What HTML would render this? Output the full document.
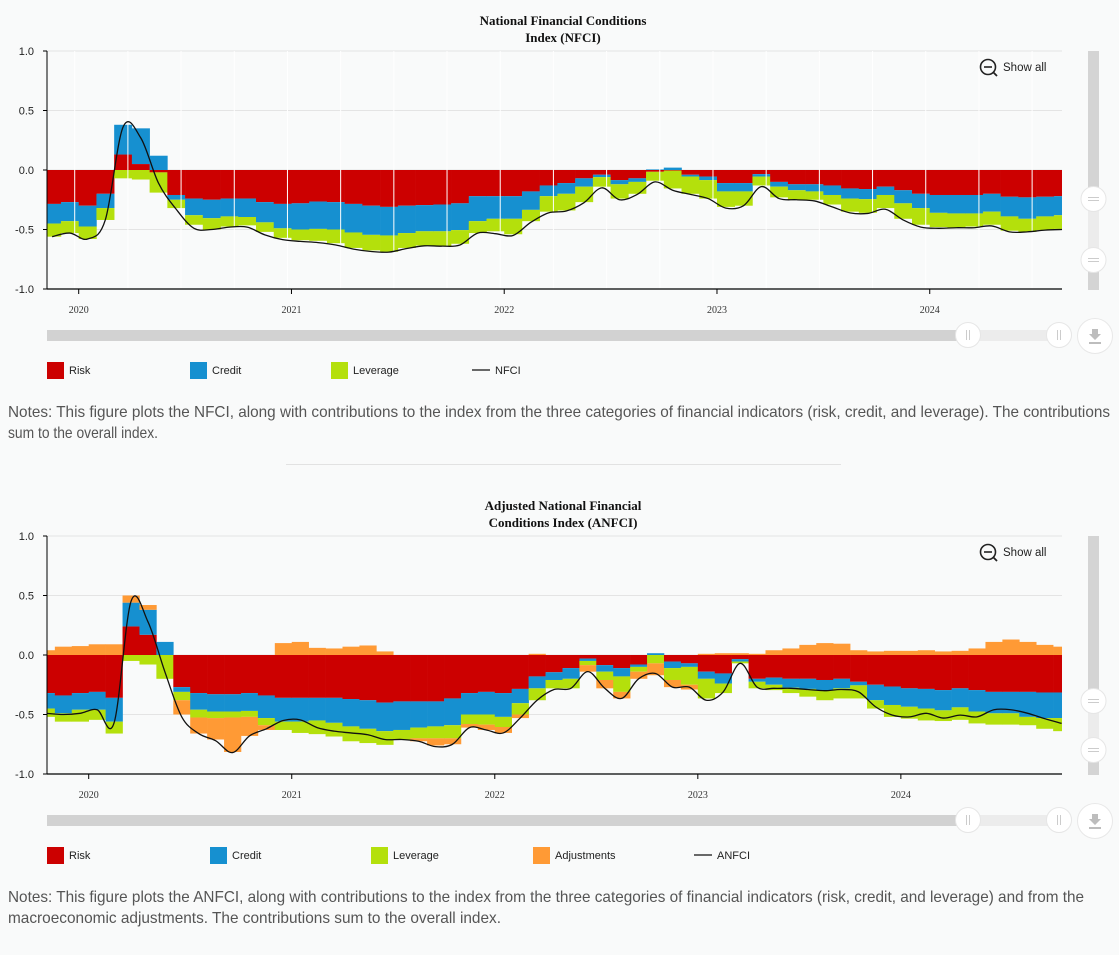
<!DOCTYPE html>
<html><head><meta charset="utf-8"><style>
html,body{margin:0;padding:0;background:#f9fafa;}
svg{display:block;font-family:"Liberation Sans",sans-serif;}
</style></head><body>
<svg id="root" width="1119" height="955" viewBox="0 0 1119 955" xmlns="http://www.w3.org/2000/svg">
<rect x="0" y="0" width="1119" height="955" fill="#f9fafa"/>
<g id="c1"></g>
<g id="c2"></g>
<line x1="286" y1="464.5" x2="841" y2="464.5" stroke="#e2e2e2"/>
<text x="8" y="417" font-size="16" fill="#555" textLength="1102" lengthAdjust="spacingAndGlyphs">Notes: This figure plots the NFCI, along with contributions to the index from the three categories of financial indicators (risk, credit, and leverage). The contributions</text>
<text x="8" y="438" font-size="16" fill="#555" textLength="150" lengthAdjust="spacingAndGlyphs">sum to the overall index.</text>
<text x="8" y="902" font-size="16" fill="#555" textLength="1076" lengthAdjust="spacingAndGlyphs">Notes: This figure plots the ANFCI, along with contributions to the index from the three categories of financial indicators (risk, credit, and leverage) and from the</text>
<text x="8" y="923" font-size="16" fill="#555" textLength="493" lengthAdjust="spacingAndGlyphs">macroeconomic adjustments. The contributions sum to the overall index.</text>
</svg>
<script>
// ---- NFCI data (monthly, Nov 2019 .. Aug 2024) ----
const nfciStartMonth = -2; // months relative to Jan 2020
const nfciRisk = [-0.285,-0.27,-0.30,-0.20,0.13,0.05,-0.02,-0.21,-0.24,-0.25,-0.24,-0.24,-0.27,-0.285,-0.28,-0.265,-0.27,-0.285,-0.30,-0.31,-0.30,-0.295,-0.29,-0.28,-0.22,-0.22,-0.22,-0.18,-0.13,-0.11,-0.07,-0.04,-0.085,-0.07,-0.015,-0.005,-0.04,-0.055,-0.11,-0.11,-0.035,-0.10,-0.12,-0.12,-0.13,-0.155,-0.16,-0.14,-0.17,-0.20,-0.21,-0.21,-0.21,-0.20,-0.225,-0.23,-0.225,-0.22];
const nfciCredit = [-0.165,-0.16,-0.175,-0.12,0.25,0.30,0.12,-0.04,-0.14,-0.155,-0.15,-0.155,-0.17,-0.205,-0.22,-0.23,-0.23,-0.24,-0.245,-0.24,-0.23,-0.22,-0.225,-0.225,-0.21,-0.19,-0.19,-0.155,-0.09,-0.09,-0.07,-0.02,-0.035,-0.03,0.005,0.02,-0.015,-0.03,-0.07,-0.07,-0.02,-0.04,-0.05,-0.06,-0.08,-0.085,-0.085,-0.07,-0.11,-0.12,-0.15,-0.155,-0.155,-0.15,-0.165,-0.18,-0.165,-0.16];
const nfciLeverage = [-0.11,-0.10,-0.105,-0.10,-0.07,-0.08,-0.17,-0.07,-0.08,-0.095,-0.085,-0.07,-0.08,-0.08,-0.09,-0.10,-0.115,-0.13,-0.13,-0.137,-0.125,-0.12,-0.125,-0.115,-0.10,-0.105,-0.13,-0.095,-0.13,-0.14,-0.13,-0.08,-0.12,-0.10,-0.075,-0.15,-0.145,-0.155,-0.13,-0.12,-0.075,-0.09,-0.08,-0.07,-0.08,-0.11,-0.115,-0.11,-0.13,-0.14,-0.12,-0.12,-0.11,-0.11,-0.12,-0.11,-0.115,-0.115];
const nfciIndex = [-0.56,-0.53,-0.58,-0.42,0.36,0.27,-0.11,-0.33,-0.49,-0.50,-0.48,-0.48,-0.545,-0.585,-0.60,-0.61,-0.63,-0.665,-0.685,-0.69,-0.66,-0.637,-0.64,-0.63,-0.53,-0.535,-0.55,-0.44,-0.36,-0.345,-0.275,-0.15,-0.25,-0.205,-0.10,-0.17,-0.205,-0.24,-0.32,-0.30,-0.14,-0.24,-0.25,-0.26,-0.31,-0.36,-0.365,-0.33,-0.42,-0.48,-0.49,-0.485,-0.485,-0.47,-0.52,-0.52,-0.505,-0.50];

// ---- ANFCI data (monthly, Oct 2019 .. Oct 2024) ----
const anfciStartMonth = -3;
const anfciRisk = [-0.32,-0.34,-0.32,-0.31,-0.36,0.24,0.17,0.0,-0.27,-0.32,-0.33,-0.33,-0.32,-0.34,-0.36,-0.36,-0.36,-0.36,-0.37,-0.38,-0.40,-0.39,-0.39,-0.39,-0.365,-0.32,-0.31,-0.32,-0.285,-0.18,-0.145,-0.11,-0.03,-0.085,-0.11,-0.08,0.0,-0.055,-0.07,-0.14,-0.155,-0.035,-0.2,-0.19,-0.2,-0.2,-0.21,-0.2,-0.225,-0.25,-0.265,-0.28,-0.285,-0.295,-0.28,-0.295,-0.31,-0.31,-0.31,-0.315,-0.315];
const anfciCredit = [-0.13,-0.15,-0.14,-0.15,-0.20,0.20,0.21,0.11,-0.04,-0.14,-0.145,-0.145,-0.15,-0.19,-0.20,-0.20,-0.19,-0.21,-0.23,-0.24,-0.24,-0.24,-0.22,-0.21,-0.225,-0.18,-0.19,-0.20,-0.12,-0.10,-0.065,-0.09,-0.02,-0.055,-0.07,-0.02,0.015,-0.055,-0.03,-0.06,-0.085,-0.02,-0.025,-0.06,-0.075,-0.085,-0.085,-0.08,-0.03,-0.13,-0.155,-0.155,-0.165,-0.17,-0.16,-0.18,-0.18,-0.18,-0.21,-0.215,-0.215];
const anfciLeverage = [-0.07,-0.07,-0.10,-0.085,-0.10,-0.05,-0.08,-0.20,-0.07,-0.065,-0.055,-0.05,-0.05,-0.06,-0.07,-0.095,-0.115,-0.115,-0.125,-0.12,-0.115,-0.08,-0.09,-0.10,-0.11,-0.08,-0.085,-0.085,-0.095,-0.10,-0.07,-0.08,-0.035,-0.07,-0.13,-0.04,-0.07,-0.10,-0.15,-0.165,-0.08,-0.015,-0.055,-0.045,-0.045,-0.065,-0.085,-0.085,-0.11,-0.07,-0.10,-0.10,-0.10,-0.09,-0.105,-0.10,-0.095,-0.095,-0.07,-0.09,-0.11];
const anfciAdjust = [0.04,0.07,0.075,0.09,0.09,0.06,0.04,0.0,-0.12,-0.135,-0.18,-0.29,-0.16,-0.04,0.10,0.11,0.06,0.055,0.07,0.08,0.03,0.0,-0.025,-0.06,-0.05,-0.03,-0.045,-0.05,-0.03,0.01,0.0,0.0,-0.055,-0.07,-0.055,-0.06,-0.1,-0.06,-0.04,0.01,0.015,0.015,0.01,0.04,0.055,0.085,0.10,0.095,0.04,0.03,0.035,0.035,0.04,0.03,0.035,0.055,0.11,0.13,0.11,0.085,0.07];
const anfciIndex = [-0.49,-0.50,-0.49,-0.46,-0.57,0.45,0.28,-0.14,-0.52,-0.66,-0.72,-0.82,-0.68,-0.62,-0.55,-0.545,-0.61,-0.64,-0.655,-0.67,-0.71,-0.71,-0.725,-0.77,-0.75,-0.61,-0.63,-0.655,-0.53,-0.38,-0.29,-0.28,-0.14,-0.28,-0.365,-0.2,-0.155,-0.27,-0.27,-0.38,-0.31,-0.07,-0.27,-0.28,-0.28,-0.29,-0.30,-0.29,-0.31,-0.435,-0.505,-0.52,-0.49,-0.53,-0.505,-0.52,-0.46,-0.46,-0.49,-0.535,-0.575];

const yTicks = ["1.0","0.5","0.0","-0.5","-1.0"];
const yTickVals = [1,0.5,0,-0.5,-1];
const years = ["2020","2021","2022","2023","2024"];

const NS = "http://www.w3.org/2000/svg";
function mk(parent, tag, attrs, text){
  const e = document.createElementNS(NS, tag);
  for (const k in attrs) e.setAttribute(k, attrs[k]);
  if (text !== undefined) e.textContent = text;
  parent.appendChild(e);
  return e;
}
const COL = {risk:"#cc0000", credit:"#1690d0", lev:"#b4e00c", adj:"#ff9a35"};

function build(g, cfg){
  const L = 47, R = 1062, top = cfg.top, bot = cfg.top + 238;
  const ys = v => (top + bot)/2 - v * 119;
  const xs = t => cfg.x2020 + t * cfg.pxm;
  const t1 = mk(g,"text",{x:563,y:top-26,"text-anchor":"middle","font-size":"13","font-weight":"bold","font-family":"'Liberation Serif',serif",fill:"#111"}, cfg.title[0]);
  
  
  const t2 = mk(g,"text",{x:563,y:top-9,"text-anchor":"middle","font-size":"13","font-weight":"bold","font-family":"'Liberation Serif',serif",fill:"#111"}, cfg.title[1]);
  
  
  yTickVals.forEach((v,i)=>{
    const y = ys(v);
    const gl = mk(g,"line",{x1:L,x2:R,y1:y,y2:y,stroke:"#e4e4e4","stroke-width":1});
    
    
    const tk = mk(g,"line",{x1:L-4,x2:L,y1:y,y2:y,stroke:"#000"});
    
    
    const lb = mk(g,"text",{x:34,y:y+4,"text-anchor":"end","font-size":"11",fill:"#222"}, yTicks[i]);
    
    
  });
  const clipId = cfg.id+"clip";
  const defs = mk(g,"defs",{});
  const cp = mk(defs,"clipPath",{id:clipId});
  mk(cp,"rect",{x:L,y:top-5,width:R-L,height:250});
  const plot = mk(g,"g",{"clip-path":`url(#${clipId})`});
  
  
  const n = cfg.index.length;
  for (let i=0;i<n;i++){
    const t0 = cfg.start + i;
    const x0 = xs(t0), x1 = xs(t0+1);
    let pos = 0, neg = 0;
    cfg.series.forEach(s=>{
      const v = s.vals[i];
      if (v === 0) return;
      let y1, y2;
      if (v > 0){ y1 = ys(pos+v); y2 = ys(pos); pos += v; }
      else { y1 = ys(neg); y2 = ys(neg+v); neg += v; }
      const r = mk(plot,"rect",{x:x0,y:y1,width:x1-x0+0.3,height:Math.max(0,y2-y1),fill:s.color});
      
      
    });
  }
  if (cfg.whiteLines){
    for (let q=-1;q<20;q++){
      const x = xs(q*3) - 4;
      if (x<=L+2||x>=R) continue;
      const wl = mk(plot,"line",{x1:x,x2:x,y1:top,y2:bot,stroke:"#ffffff","stroke-width":1});
      
      
    }
  }
  const pts = cfg.index.map((v,i)=>[xs(cfg.start+i+0.5), ys(v)]);
  let d = `M${pts[0][0]},${pts[0][1]}`;
  for (let i=0;i<pts.length-1;i++){
    const p0 = pts[Math.max(0,i-1)], p1 = pts[i], p2 = pts[i+1], p3 = pts[Math.min(pts.length-1,i+2)];
    const c1 = [p1[0]+(p2[0]-p0[0])/6, p1[1]+(p2[1]-p0[1])/6];
    const c2 = [p2[0]-(p3[0]-p1[0])/6, p2[1]-(p3[1]-p1[1])/6];
    d += ` C${c1[0]},${c1[1]} ${c2[0]},${c2[1]} ${p2[0]},${p2[1]}`;
  }
  const ln = mk(plot,"path",{d:d,fill:"none",stroke:"#111","stroke-width":1.3});
  
  
  const ax = mk(g,"line",{x1:L,x2:R,y1:bot,y2:bot,stroke:"#000","stroke-width":1.3});
  
  
  const ay = mk(g,"line",{x1:L,x2:L,y1:top,y2:bot,stroke:"#000","stroke-width":1});
  
  
  years.forEach((yr,k)=>{
    const x = xs(k*12);
    const tk = mk(g,"line",{x1:x,x2:x,y1:bot,y2:bot+5,stroke:"#000"});
    
    
    const lb = mk(g,"text",{x:x,y:bot+24,"text-anchor":"middle","font-size":"10","font-family":"'Liberation Serif',serif",fill:"#333"}, yr);
    
    
  });
  const sa = mk(g,"g",{});
  
  
  mk(sa,"circle",{cx:988,cy:top+16,r:7.5,fill:"none",stroke:"#222","stroke-width":1.6});
  mk(sa,"line",{x1:984,x2:992,y1:top+16,y2:top+16,stroke:"#222","stroke-width":1.6});
  mk(sa,"line",{x1:993.5,x2:997,y1:top+21.5,y2:top+25,stroke:"#222","stroke-width":1.8});
  mk(sa,"text",{x:1003,y:top+20,"font-size":"11.5",fill:"#222"},"Show all");
  const vs = mk(g,"g",{});
  
  
  mk(vs,"rect",{x:1088,y:top,width:11,height:239,fill:"#d4d4d4"});
  mk(vs,"rect",{x:1088,y:top+cfg.h1,width:11,height:cfg.h2-cfg.h1,fill:"#ececec"});
  [cfg.h1,cfg.h2].forEach(h=>{
    mk(vs,"circle",{cx:1093.5,cy:top+h,r:12.5,fill:"#fff",stroke:"#e6e6e6"});
    mk(vs,"line",{x1:1088,x2:1099,y1:top+h-1.5,y2:top+h-1.5,stroke:"#ccc"});
    mk(vs,"line",{x1:1088,x2:1099,y1:top+h+1.5,y2:top+h+1.5,stroke:"#ccc"});
  });
  const sy = bot + 46;
  const hs = mk(g,"g",{});
  
  
  mk(hs,"rect",{x:47,y:sy-5,width:1015,height:11,fill:"#d2d2d2"});
  mk(hs,"rect",{x:968,y:sy-5,width:92,height:11,fill:"#ececec"});
  [968,1059].forEach(x=>{
    mk(hs,"circle",{cx:x,cy:sy,r:12.5,fill:"#fff",stroke:"#e6e6e6"});
    mk(hs,"line",{x1:x-1.5,x2:x-1.5,y1:sy-5,y2:sy+5,stroke:"#ccc"});
    mk(hs,"line",{x1:x+1.5,x2:x+1.5,y1:sy-5,y2:sy+5,stroke:"#ccc"});
  });
  const dl = mk(g,"g",{});
  
  
  mk(dl,"circle",{cx:1095,cy:sy+1,r:17.5,fill:"#fff",stroke:"#e8e8e8"});
  mk(dl,"path",{d:`M1092,${sy-6} h6 v5 h3 l-6,6 l-6,-6 h3 z`,fill:"#bdbdbd"});
  mk(dl,"rect",{x:1089,y:sy+7,width:12,height:2,fill:"#bdbdbd"});
  const ly = bot + 81;
  cfg.legend.forEach(le=>{
    const lg = mk(g,"g",{});
    
    
    if (le.color) mk(lg,"rect",{x:le.x,y:ly-8,width:17,height:17,fill:le.color});
    else mk(lg,"line",{x1:le.x,x2:le.x+18,y1:ly,y2:ly,stroke:"#111","stroke-width":1.3});
    mk(lg,"text",{x:le.x+(le.color?22:23),y:ly+4,"font-size":"11",fill:"#222"},le.label);
  });
}

build(document.getElementById('c1'),{
  id:"c1", top:51, x2020:78.7, pxm:17.73, start:nfciStartMonth,
  title:["National Financial Conditions","Index (NFCI)"],
  index:nfciIndex, whiteLines:true, h1:148, h2:209,
  series:[{key:"risk",vals:nfciRisk,color:COL.risk},{key:"credit",vals:nfciCredit,color:COL.credit},{key:"leverage",vals:nfciLeverage,color:COL.lev}],
  legend:[{x:47,label:"Risk",color:COL.risk},{x:190,label:"Credit",color:COL.credit},{x:331,label:"Leverage",color:COL.lev},{x:472,label:"NFCI"}]
});
build(document.getElementById('c2'),{
  id:"c2", top:536, x2020:88.7, pxm:16.92, start:anfciStartMonth,
  title:["Adjusted National Financial","Conditions Index (ANFCI)"],
  index:anfciIndex, whiteLines:false, h1:165, h2:214,
  series:[{key:"risk",vals:anfciRisk,color:COL.risk},{key:"credit",vals:anfciCredit,color:COL.credit},{key:"leverage",vals:anfciLeverage,color:COL.lev},{key:"adjustments",vals:anfciAdjust,color:COL.adj}],
  legend:[{x:47,label:"Risk",color:COL.risk},{x:210,label:"Credit",color:COL.credit},{x:371,label:"Leverage",color:COL.lev},{x:533,label:"Adjustments",color:COL.adj},{x:694,label:"ANFCI"}]
});
</script>
</body></html>
